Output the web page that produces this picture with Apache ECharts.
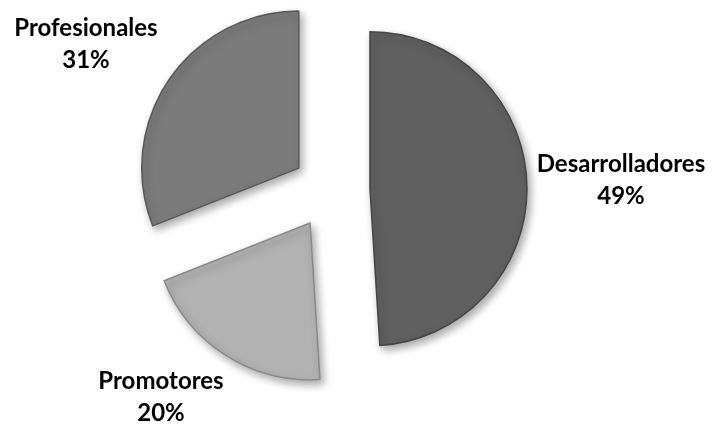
<!DOCTYPE html>
<html>
<head>
<meta charset="utf-8">
<script src="https://cdn.jsdelivr.net/npm/echarts@6/dist/echarts.min.js"></script>
<style>
  html, body { margin: 0; padding: 0; background: #ffffff; }
  #chart { width: 714px; height: 426px; }
</style>
</head>
<body>
<div id="chart"></div>
<script>
// Distribución por tipo de perfil (porcentajes)
const categories = ['Desarrolladores', 'Promotores', 'Profesionales'];
const shares = [49, 20, 31];
const sliceColors = ['#606060', '#b2b2b2', '#7b7b7b'];
const edgeColors = ['#454545', '#8a8a8a', '#585858'];

// Label block centres (px), one per slice
const labelSpots = [
  { x: 621, y: 180 },
  { x: 161, y: 397 },
  { x: 86, y: 44 }
];

const chart = echarts.init(document.getElementById('chart'));

const data = categories.map((name, i) => ({
  name: name,
  value: shares[i],
  selected: true,
  itemStyle: {
    color: sliceColors[i],
    borderColor: edgeColors[i],
    borderWidth: 1.5
  }
}));

const labelGraphics = categories.map((name, i) => ({
  type: 'text',
  x: labelSpots[i].x,
  y: labelSpots[i].y,
  silent: true,
  style: {
    text: name + '\n' + shares[i] + '%',
    fill: '#000000',
    font: 'bold 24px Lato',
    lineHeight: 32,
    align: 'center',
    verticalAlign: 'middle'
  }
}));

chart.setOption({
  animation: false,
  graphic: labelGraphics,
  series: [{
    type: 'pie',
    center: [331, 190],
    radius: 157,
    startAngle: 90,
    clockwise: true,
    selectedMode: 'multiple',
    selectedOffset: 39,
    itemStyle: {
      shadowBlur: 8,
      shadowOffsetX: 3,
      shadowOffsetY: 4,
      shadowColor: 'rgba(0,0,0,0.35)'
    },
    label: { show: false },
    labelLine: { show: false },
    emphasis: { disabled: true },
    data: data
  }]
});
</script>
</body>
</html>
